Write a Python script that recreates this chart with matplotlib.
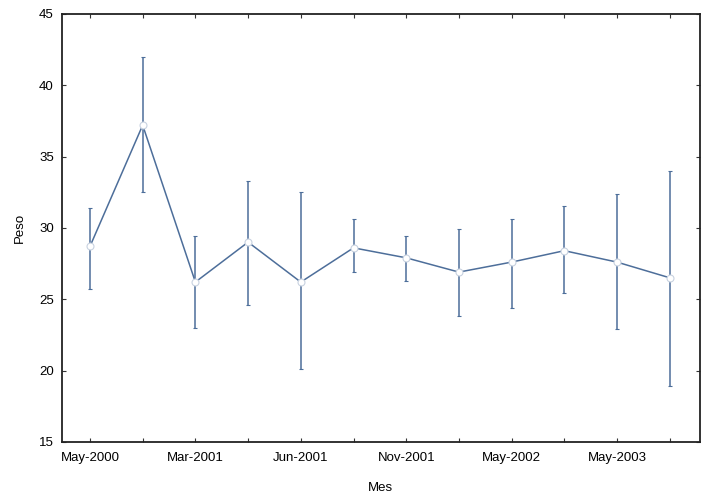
import numpy as np
import matplotlib.pyplot as plt

plt.rcParams['font.family'] = ['Liberation Sans', 'DejaVu Sans']

# Datos
meses = ['May-2000', '', 'Mar-2001', '', 'Jun-2001', '', 'Nov-2001', '',
         'May-2002', '', 'May-2003', '']
peso = [28.7, 37.2, 26.2, 29.0, 26.2, 28.6, 27.9, 26.9, 27.6, 28.4, 27.6, 26.5]
sup = [31.4, 42.0, 29.4, 33.3, 32.5, 30.6, 29.4, 29.9, 30.6, 31.5, 32.4, 34.0]
inf = [25.7, 32.5, 23.0, 24.6, 20.1, 26.9, 26.3, 23.8, 24.4, 25.4, 22.9, 18.9]

x = np.arange(len(peso))
peso = np.array(peso)
err = [peso - np.array(inf), np.array(sup) - peso]

fig = plt.figure(figsize=(7.09, 4.97), dpi=100)
ax = fig.add_axes([0.0875, 0.111, 0.8995, 0.861])

color = '#4d6e9a'
ax.errorbar(x, peso, yerr=err, color=color, lw=1.1, elinewidth=1.1,
            capsize=1.5, capthick=1.5, ecolor=color,
            marker='o', markersize=5, markerfacecolor='white',
            markeredgecolor='#c8d2e0', markeredgewidth=0.8)

ax.set_xlim(-0.53, 11.57)
ax.set_ylim(15, 45)
ax.set_yticks([15, 20, 25, 30, 35, 40, 45])
ax.set_xticks(x)
ax.set_xticklabels(meses)
ax.tick_params(direction='in', length=3, labelsize=9.5, top=True, right=True,
               width=0.8, color='#333333')
ax.tick_params(axis='x', pad=7)
ax.tick_params(axis='y', pad=6)
for s in ax.spines.values():
    s.set_linewidth(1.3)
    s.set_color('#222222')

ax.set_xlabel('Mes', fontsize=9.5, labelpad=13)
ax.set_ylabel('Peso', fontsize=9.5, labelpad=9)

fig.savefig('out.png', dpi=100)
